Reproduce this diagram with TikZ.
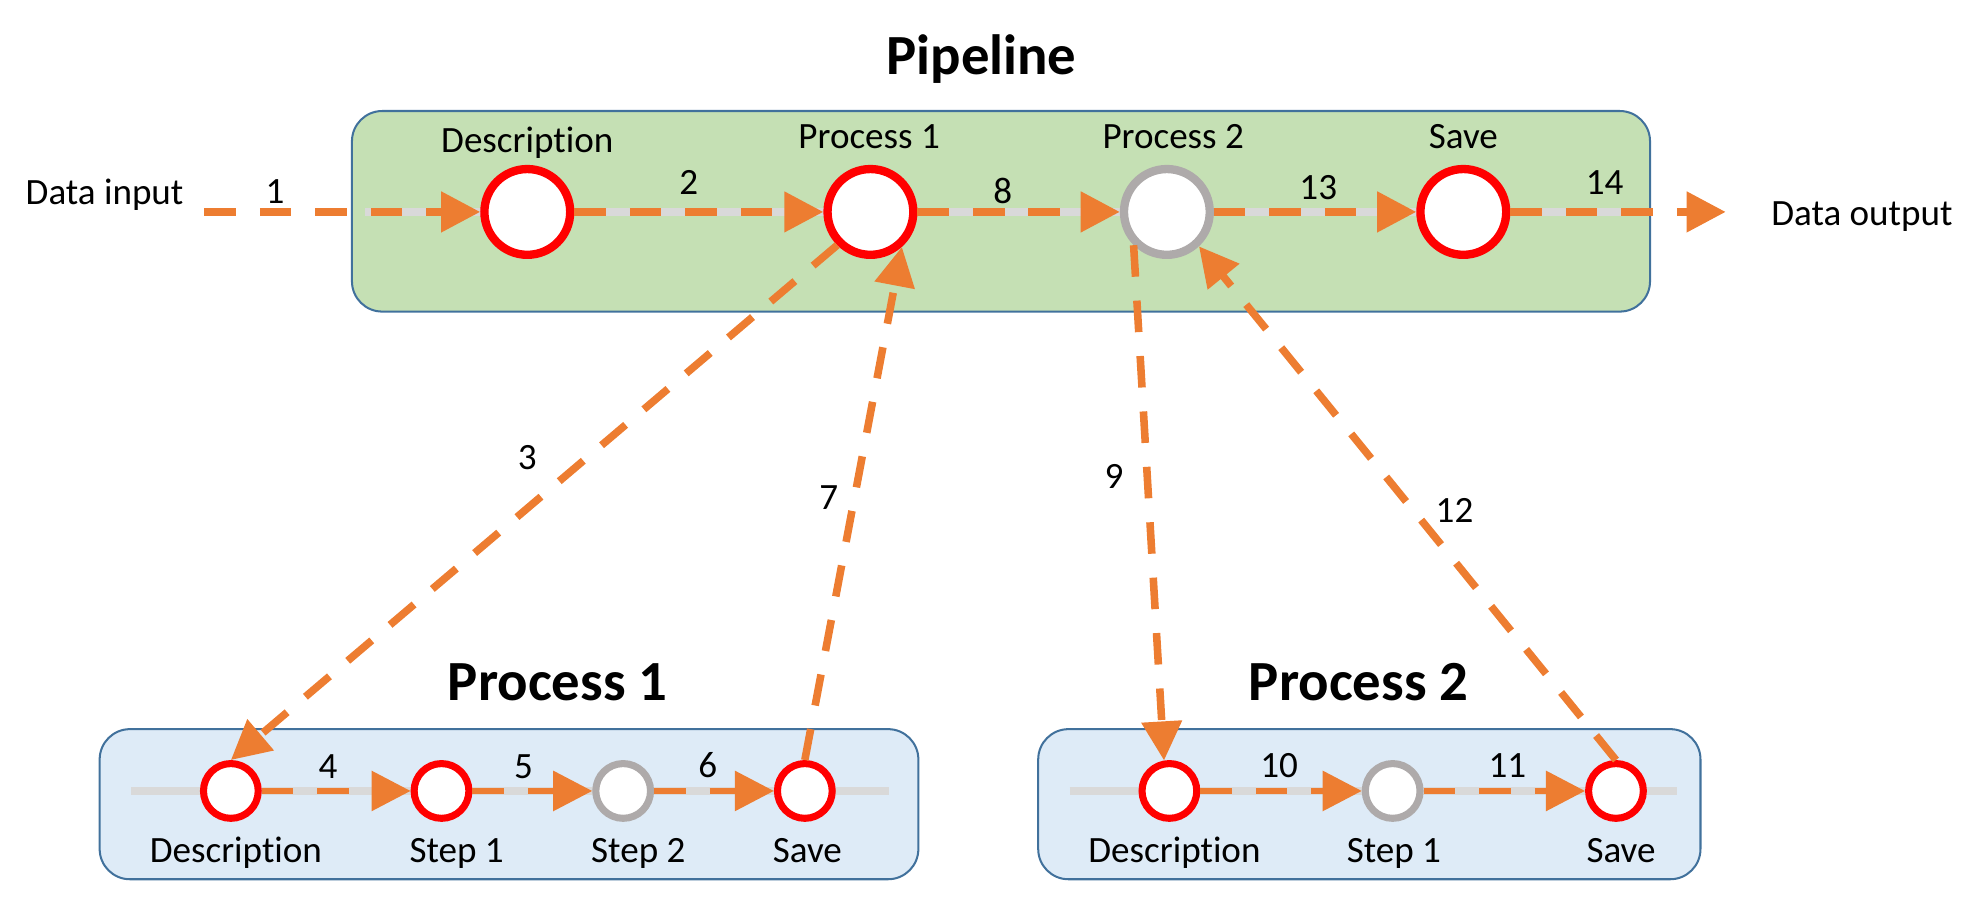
\documentclass[tikz,border=0pt]{standalone}
\usepackage{fontspec}
\setmainfont{Carlito}[Ligatures={NoCommon,NoContextual}]
\usetikzlibrary{arrows.meta}

\definecolor{pipegreen}{HTML}{C5E0B4}
\definecolor{procblue}{HTML}{DEEBF7}
\definecolor{boxedge}{HTML}{41719C}
\definecolor{arrorange}{HTML}{ED7D31}
\definecolor{ringgrey}{HTML}{AEAAAA}
\definecolor{trackgrey}{HTML}{D9D9D9}

\tikzset{
  txt/.style={anchor=base,inner sep=0pt,font=\fontsize{14.7}{17}\selectfont},
  heading/.style={anchor=base,inner sep=0pt,font=\fontsize{22.5}{27}\selectfont\bfseries},
  bigring/.style={circle,draw=red,line width=3.3pt,fill=white,inner sep=0pt,minimum size=34pt},
  smallring/.style={circle,draw=red,line width=2.8pt,fill=white,inner sep=0pt,minimum size=21.7pt},
  track/.style={draw=trackgrey,line width=3.3pt},
  flowline/.style={draw=arrorange,line width=3pt,dash pattern=on 12.5pt off 9.5pt,
    -{Triangle[length=15.5pt,width=15.5pt]}},
  flowthin/.style={flowline,line width=2.3pt},
  greenbox/.style={draw=boxedge,fill=pipegreen,line width=0.8pt,rounded corners=12pt},
  bluebox/.style={draw=boxedge,fill=procblue,line width=0.8pt,rounded corners=12pt}
}

\begin{document}
\begin{tikzpicture}[x=0.5pt,y=-0.5pt]
        \useasboundingbox (0,0) rectangle (1568,711);

        % Boxes
        \draw[greenbox] (279,88) rectangle (1308,247);
        \draw[bluebox] (79,578) rectangle (728,697);
        \draw[bluebox] (823,578) rectangle (1348,697);

        % Grey tracks behind the steps
        \draw[track] (289,168) -- (1300,168);
        \draw[track] (104,627) -- (705,627);
        \draw[track] (848,627) -- (1329,627);

        % Pipeline steps
        \node[bigring] (pdesc) at (418,168) {};
        \node[bigring] (pproc1) at (690,168) {};
        \node[bigring,draw=ringgrey] (pproc2) at (925,168) {};
        \node[bigring] (psave) at (1160,168) {};

        % Process 1 steps
        \node[smallring] (adesc) at (183,627) {};
        \node[smallring] (astep1) at (350,627) {};
        \node[smallring,draw=ringgrey] (astep2) at (494,627) {};
        \node[smallring] (asave) at (638,627) {};

        % Process 2 steps
        \node[smallring] (bdesc) at (927,627) {};
        \node[smallring,draw=ringgrey] (bstep1) at (1104,627) {};
        \node[smallring] (bsave) at (1281,627) {};

        % Free ends
        \coordinate (din) at (162,168);
        \coordinate (dout) at (1368,168);

        % Main flow
        \draw[flowline] (din) -- (pdesc);
        \draw[flowline] (pdesc) -- (pproc1);
        \draw[flowline] (pproc1) -- (pproc2);
        \draw[flowline] (pproc2) -- (psave);
        \draw[flowline] (psave) -- (dout);

        % Calls into the processes
        \draw[flowline] (pproc1.225) -- (adesc.north);
        \draw[flowline] (asave.north) -- (pproc1.-48);
        \draw[flowline] (pproc2.-135) -- (bdesc.100);
        \draw[flowline] (bsave.north) -- (pproc2.-47);

        % Inner flows
        \draw[flowthin] (adesc) -- (astep1);
        \draw[flowthin] (astep1) -- (astep2);
        \draw[flowthin] (astep2) -- (asave);
        \draw[flowthin] (bdesc) -- (bstep1);
        \draw[flowthin] (bstep1) -- (bsave);

        % Titles
        \node[heading] (tpipe) at (778,59) {Pipeline};
        \node[heading] (tproc1) at (442,555) {Process 1};
        \node[heading] (tproc2) at (1077,555) {Process 2};

        % Step names
        \node[txt] (lpdesc) at (418,121) {Description};
        \node[txt] (lpproc1) at (689,118) {Process 1};
        \node[txt] (lpproc2) at (930,118) {Process 2};
        \node[txt] (lpsave) at (1160,118) {Save};
        \node[txt] (ladesc) at (187,684) {Description};
        \node[txt] (lastep1) at (362,684) {Step 1};
        \node[txt] (lastep2) at (506,684) {Step 2};
        \node[txt] (lasave) at (640,684) {Save};
        \node[txt] (lbdesc) at (931,684) {Description};
        \node[txt] (lbstep1) at (1105,684) {Step 1};
        \node[txt] (lbsave) at (1285,684) {Save};
        \node[txt,anchor=base west] (ldin) at (20,162) {Data input};
        \node[txt] (ldout) at (1476,179) {Data output};

        % Order numbers
        \node[txt] (n1) at (218,161) {1};
        \node[txt] (n2) at (546,154) {2};
        \node[txt] (n3) at (418,372) {3};
        \node[txt] (n4) at (260,617) {4};
        \node[txt] (n5) at (415,617) {5};
        \node[txt] (n6) at (561,616) {6};
        \node[txt] (n7) at (657,404) {7};
        \node[txt] (n8) at (795,161) {8};
        \node[txt] (n9) at (883,387) {9};
        \node[txt] (n10) at (1014,616) {10};
        \node[txt] (n11) at (1195,616) {11};
        \node[txt] (n12) at (1153,414) {12};
        \node[txt] (n13) at (1045,158) {13};
        \node[txt] (n14) at (1272,154) {14};
\end{tikzpicture}
\end{document}
